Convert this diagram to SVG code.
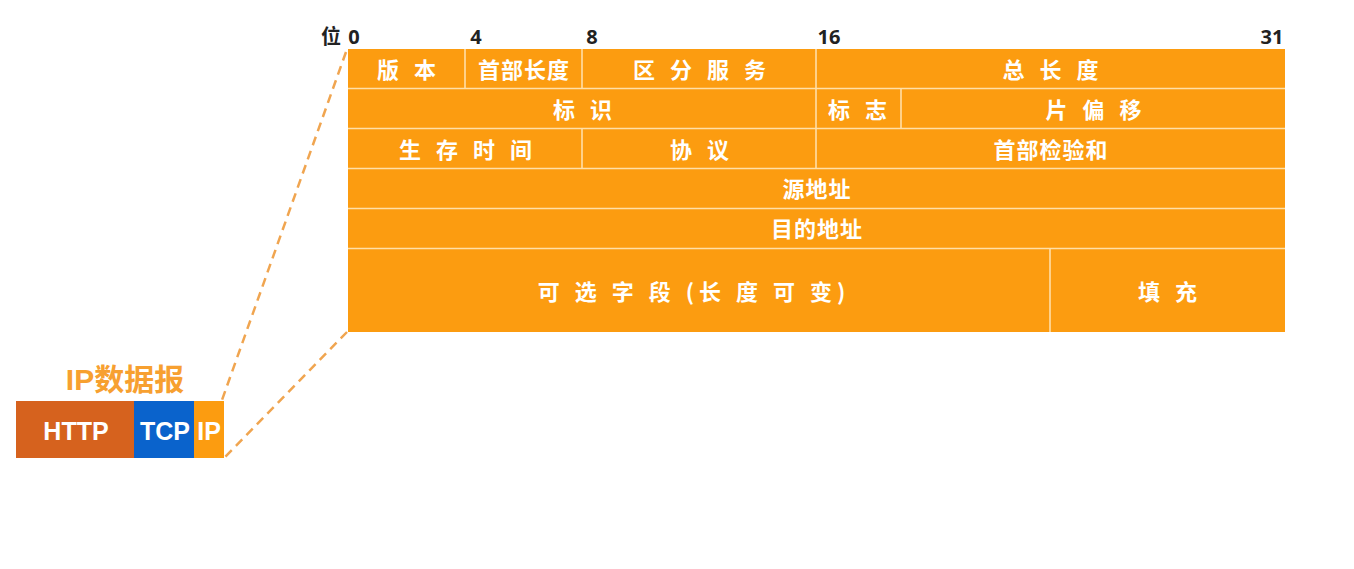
<svg xmlns="http://www.w3.org/2000/svg" width="1354" height="569" viewBox="0 0 1354 569">
<style>
.cell{fill:#FC9C10}
.sep{stroke:#FFDFA8;stroke-width:1.6;fill:none}
.t{font-family:"Noto Sans CJK SC","Noto Sans",sans-serif;font-weight:bold;font-size:22px;fill:#FFFFFF;text-anchor:middle;dominant-baseline:central;letter-spacing:1px}
.s{letter-spacing:5px}
.bit{font-family:"Noto Sans","Noto Sans CJK SC",sans-serif;font-weight:bold;font-size:20px;fill:#222222;text-anchor:middle}
.dash{stroke:#F0A550;stroke-width:2.5;stroke-dasharray:9 6;fill:none}
.w{font-family:"Liberation Sans","Noto Sans",sans-serif;font-weight:bold;font-size:25px;fill:#FFFFFF;text-anchor:middle;dominant-baseline:central}
</style>
<rect width="1354" height="569" fill="#FFFFFF"/>
<g id="connectors">
<line class="dash" x1="346" y1="52" x2="222" y2="400"/>
<line class="dash" x1="347" y1="332" x2="224" y2="458"/>
</g>
<g id="bits">
<text class="bit" x="331" y="44" font-family="Noto Sans CJK SC">位</text>
<text class="bit" x="354" y="44">0</text>
<text class="bit" x="476" y="44">4</text>
<text class="bit" x="592" y="44">8</text>
<text class="bit" x="829" y="44">16</text>
<text class="bit" x="1272" y="44">31</text>
</g>
<g id="header">
<rect class="cell" x="348" y="49" width="937" height="283"/>
<g id="separators">
<line class="sep" x1="348" y1="88.5" x2="1285" y2="88.5"/>
<line class="sep" x1="348" y1="128.5" x2="1285" y2="128.5"/>
<line class="sep" x1="348" y1="168.5" x2="1285" y2="168.5"/>
<line class="sep" x1="348" y1="208.5" x2="1285" y2="208.5"/>
<line class="sep" x1="348" y1="248.5" x2="1285" y2="248.5"/>
<line class="sep" x1="465" y1="49" x2="465" y2="88"/>
<line class="sep" x1="582" y1="49" x2="582" y2="88"/>
<line class="sep" x1="816" y1="49" x2="816" y2="168"/>
<line class="sep" x1="901" y1="89" x2="901" y2="128"/>
<line class="sep" x1="582" y1="129" x2="582" y2="168"/>
<line class="sep" x1="1050" y1="249" x2="1050" y2="332"/>
</g>
<g id="f-version"><text class="t s" x="409" y="68">版 本</text></g>
<g id="f-ihl"><text class="t" x="524" y="68">首部长度</text></g>
<g id="f-ds"><text class="t s" x="702" y="68">区 分 服 务</text></g>
<g id="f-total"><text class="t s" x="1053" y="68">总 长 度</text></g>
<g id="f-id"><text class="t s" x="585" y="108">标 识</text></g>
<g id="f-flags"><text class="t s" x="860" y="108">标 志</text></g>
<g id="f-frag"><text class="t s" x="1096" y="108">片 偏 移</text></g>
<g id="f-ttl"><text class="t s" x="468" y="148">生 存 时 间</text></g>
<g id="f-proto"><text class="t s" x="702" y="148">协 议</text></g>
<g id="f-checksum"><text class="t" x="1051" y="148">首部检验和</text></g>
<g id="f-src"><text class="t" x="817" y="187">源地址</text></g>
<g id="f-dst"><text class="t" x="817" y="227">目的地址</text></g>
<g id="f-options"><text class="t s" x="694" y="290">可 选 字 段 (长 度 可 变)</text></g>
<g id="f-padding"><text class="t s" x="1170" y="290">填 充</text></g>
</g>
<g id="datagram">
<text x="125" y="390" font-family="Liberation Sans,'Noto Sans CJK SC',sans-serif" font-weight="bold" font-size="30" fill="#F7A030" text-anchor="middle">IP数据报</text>
<rect x="16" y="401" width="118" height="57" fill="#D6621E"/>
<rect x="134" y="401" width="60" height="57" fill="#0A63CC"/>
<rect x="194" y="401" width="30" height="57" fill="#FC9C10"/>
<text class="w" x="76" y="431">HTTP</text>
<text class="w" x="165" y="431">TCP</text>
<text class="w" x="209" y="431">IP</text>
</g>
</svg>
